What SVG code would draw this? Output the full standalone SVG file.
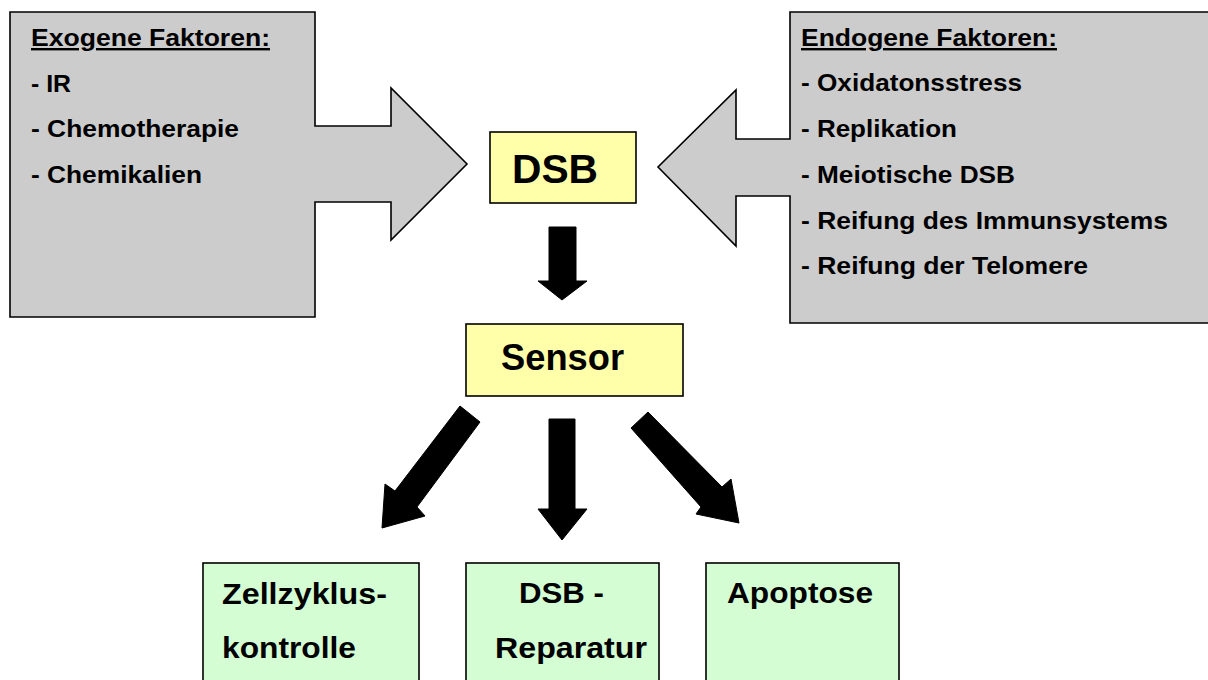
<svg xmlns="http://www.w3.org/2000/svg" width="1208" height="680" viewBox="0 0 1208 680">
  <style>
    text { font-family: "Liberation Sans", Arial, sans-serif; font-weight: bold; fill: #000; }
    .callout { fill: #cccccc; stroke: #000; stroke-width: 1.6; stroke-linejoin: miter; }
    .core { fill: #ffffaa; stroke: #000; stroke-width: 1.6; }
    .outcome { fill: #d4fdd4; stroke: #000; stroke-width: 1.6; }
    .item { font-size: 24px; }
    .head { font-size: 24px; text-decoration: underline; }
    .out { font-size: 29px; }
    .arrow { fill: #000; stroke: #000; stroke-width: 1; stroke-linejoin: miter; }
  </style>
  <rect width="1208" height="680" fill="#ffffff"/>

  <!-- exogenous factors: box with right-pointing arrow -->
  <g id="exogen">
    <path class="callout" d="M10,12 H315 V126 H391 V88 L467,164 L391,240 V202 H315 V317 H10 Z"/>
    <text class="head" x="31" y="46" textLength="239" lengthAdjust="spacingAndGlyphs">Exogene Faktoren:</text>
    <text class="item" x="31" y="92" textLength="40" lengthAdjust="spacingAndGlyphs">- IR</text>
    <text class="item" x="31" y="137" textLength="208" lengthAdjust="spacingAndGlyphs">- Chemotherapie</text>
    <text class="item" x="31" y="183" textLength="171" lengthAdjust="spacingAndGlyphs">- Chemikalien</text>
  </g>

  <!-- endogenous factors: box with left-pointing arrow -->
  <g id="endogen">
    <path class="callout" d="M790,12 H1212 V323 H790 V196 H736 V246 L658,167 L736,90 V139 H790 Z"/>
    <text class="head" x="801" y="46" textLength="256" lengthAdjust="spacingAndGlyphs">Endogene Faktoren:</text>
    <text class="item" x="801" y="91" textLength="221" lengthAdjust="spacingAndGlyphs">- Oxidatonsstress</text>
    <text class="item" x="801" y="137" textLength="156" lengthAdjust="spacingAndGlyphs">- Replikation</text>
    <text class="item" x="801" y="183" textLength="214" lengthAdjust="spacingAndGlyphs">- Meiotische DSB</text>
    <text class="item" x="801" y="229" textLength="367" lengthAdjust="spacingAndGlyphs">- Reifung des Immunsystems</text>
    <text class="item" x="801" y="274" textLength="287" lengthAdjust="spacingAndGlyphs">- Reifung der Telomere</text>
  </g>

  <g id="dsb">
    <rect class="core" x="490" y="132" width="146" height="71"/>
    <text x="512" y="183" font-size="40" textLength="86" lengthAdjust="spacingAndGlyphs">DSB</text>
  </g>

  <g id="sensor">
    <rect class="core" x="466" y="324" width="217" height="72"/>
    <text x="501" y="370" font-size="36" textLength="123" lengthAdjust="spacingAndGlyphs">Sensor</text>
  </g>

  <g id="zellzyklus">
    <rect class="outcome" x="203" y="563" width="216" height="130"/>
    <text class="out" x="222" y="604" textLength="165" lengthAdjust="spacingAndGlyphs">Zellzyklus-</text>
    <text class="out" x="222" y="658" textLength="134" lengthAdjust="spacingAndGlyphs">kontrolle</text>
  </g>

  <g id="reparatur">
    <rect class="outcome" x="466" y="563" width="193" height="130"/>
    <text class="out" x="519" y="603" textLength="85" lengthAdjust="spacingAndGlyphs">DSB -</text>
    <text class="out" x="495" y="658" textLength="152" lengthAdjust="spacingAndGlyphs">Reparatur</text>
  </g>

  <g id="apoptose">
    <rect class="outcome" x="706" y="563" width="193" height="130"/>
    <text class="out" x="727" y="603" textLength="146" lengthAdjust="spacingAndGlyphs">Apoptose</text>
  </g>

  <!-- block arrows between stages -->
  <g id="connectors">
    <polygon class="arrow" points="549,227 576,227 576,281 587,281 562,300 538,281 549,281"/>
    <polygon class="arrow" points="549,419 575,419 575,509 587,509 562,540 538,509 549,509"/>
    <polygon class="arrow" points="460,406 480,422 417,507 425,516 382,528 385,484 395,491"/>
    <polygon class="arrow" points="648,412 722,487 731,479 739,523 696,514 701,507 631,428"/>
  </g>
</svg>
